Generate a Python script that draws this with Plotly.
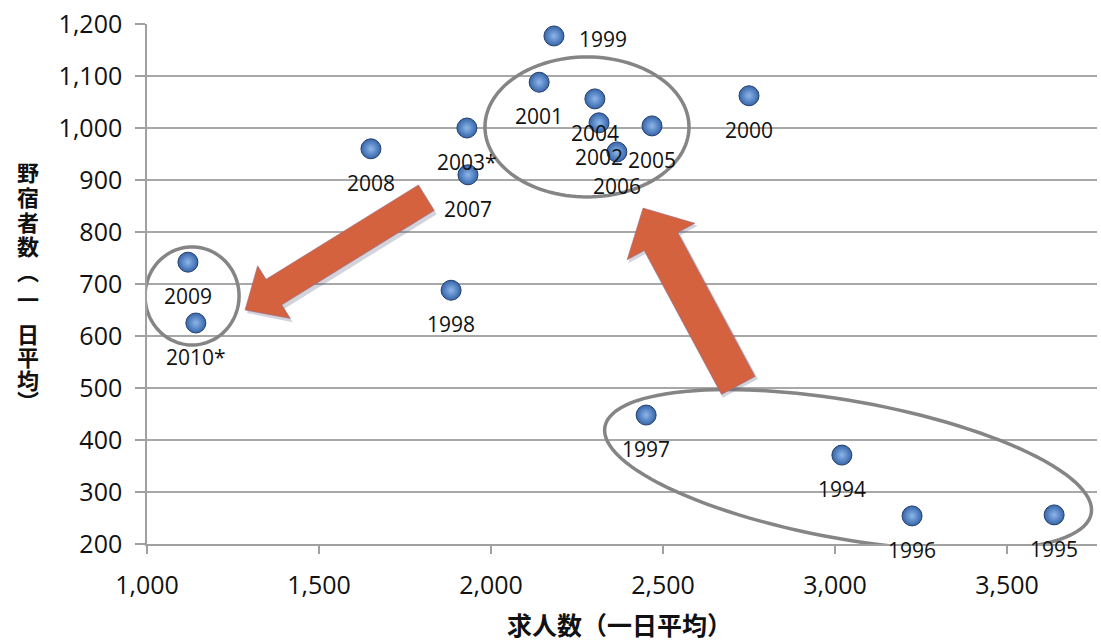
import math
import plotly.graph_objects as go

# Yearly averages: job offers per day vs. rough sleepers per day
years = ["1994", "1995", "1996", "1997", "1998", "1999", "2000", "2001", "2002",
         "2003*", "2004", "2005", "2006", "2007", "2008", "2009", "2010*"]
job_offers = [3020, 3637, 3224, 2451, 1884, 2183, 2750, 2140, 2314,
              1930, 2302, 2468, 2366, 1933, 1651, 1119, 1142]
rough_sleepers = [371, 256, 254, 448, 688, 1177, 1062, 1088, 1010,
                  1000, 1056, 1004, 954, 910, 960, 742, 625]

x_ticks = [1000, 1500, 2000, 2500, 3000, 3500]
y_ticks = [200, 300, 400, 500, 600, 700, 800, 900, 1000, 1100, 1200]

x_title = "求人数（一日平均）"
y_title_chars = ["野", "宿", "者", "数", "︵", "一", "日", "平", "均", "︶"]
# vertical placement (px from top) of each stacked title character
y_title_pos = [171, 196, 221, 245, 270, 298, 333, 356, 379, 400]

# ---- layout geometry -------------------------------------------------------
W, H = 1101, 644
ML, MR, MT, MB = 147, 4, 24, 100
PW, PH = W - ML - MR, H - MT - MB
XMIN, YMIN, YMAX = 1000, 200, 1200
KY = PH / (YMAX - YMIN)
KX = 0.344                       # px per job offer
XMAX = XMIN + PW / KX


def to_px(x, y):
    return ML + (x - XMIN) * KX, MT + (YMAX - y) * KY


def to_data(px, py):
    return XMIN + (px - ML) / KX, YMAX - (py - MT) / KY


def path_from_px(points, close=True):
    parts = []
    for i, (px, py) in enumerate(points):
        dx, dy = to_data(px, py)
        parts.append(("M" if i == 0 else "L") + f"{dx:.3f},{dy:.3f}")
    return " ".join(parts) + (" Z" if close else "")


def ellipse_path(cx, cy, a, b, angle_deg, n=120):
    """Ellipse centred on data point (cx, cy); semi-axes a, b in screen px."""
    pcx, pcy = to_px(cx, cy)
    th = math.radians(angle_deg)
    pts = []
    for i in range(n + 1):
        t = 2 * math.pi * i / n
        ex = a * math.cos(t)
        ey = b * math.sin(t)
        pts.append((pcx + ex * math.cos(th) - ey * math.sin(th),
                    pcy + ex * math.sin(th) + ey * math.cos(th)))
    return path_from_px(pts)


def block_arrow_px(tail, tip, shaft_w, head_w, head_len, off=(0, 0)):
    tx, ty = to_px(*tail)
    hx, hy = to_px(*tip)
    tx, ty, hx, hy = tx + off[0], ty + off[1], hx + off[0], hy + off[1]
    L = math.hypot(hx - tx, hy - ty)
    ux, uy = (hx - tx) / L, (hy - ty) / L
    nx, ny = -uy, ux
    bx, by = hx - ux * head_len, hy - uy * head_len
    s, h = shaft_w / 2, head_w / 2
    return [
        (tx + nx * s, ty + ny * s),
        (bx + nx * s, by + ny * s),
        (bx + nx * h, by + ny * h),
        (hx, hy),
        (bx - nx * h, by - ny * h),
        (bx - nx * s, by - ny * s),
        (tx - nx * s, ty - ny * s),
    ]


# ---- figure ----------------------------------------------------------------
fig = go.Figure()

fig.add_trace(go.Scatter(
    x=job_offers, y=rough_sleepers, mode="markers",
    marker=dict(size=20, color="#3565AA",
                gradient=dict(type="radial", color="#8DB6EA"),
                line=dict(color="#263F6A", width=1)),
    hoverinfo="skip", showlegend=False,
))

grey = "#858585"
shapes = [
    dict(type="path", path=ellipse_path(2279, 1002, 102, 70, 0),
         line=dict(color=grey, width=3.5)),
    dict(type="path", path=ellipse_path(1131, 677, 47, 49, 0),
         line=dict(color=grey, width=3.5)),
    dict(type="path", path=ellipse_path(3038, 342, 247, 69, 10.1),
         line=dict(color=grey, width=3.5)),
]

arrows = [
    dict(tail=(1812, 866), tip=(1285, 650), shaft_w=30, head_w=62, head_len=34),
    dict(tail=(2719, 505), tip=(2442, 846), shaft_w=38, head_w=77, head_len=38),
]
for a in arrows:
    shadow = block_arrow_px(a["tail"], a["tip"], a["shaft_w"] + 2, a["head_w"] + 2,
                            a["head_len"], off=(2, 3))
    shapes.append(dict(type="path", path=path_from_px(shadow),
                       fillcolor="rgba(80,80,110,0.25)", line=dict(width=0)))
    body = block_arrow_px(a["tail"], a["tip"], a["shaft_w"], a["head_w"], a["head_len"])
    shapes.append(dict(type="path", path=path_from_px(body),
                       fillcolor="#D4623E", line=dict(color="rgba(150,110,140,0.6)", width=1)))

annotations = []
for yr, xv, yv in zip(years, job_offers, rough_sleepers):
    xs, ys = (49, -3) if yr == "1999" else (0, -34)
    annotations.append(dict(
        x=xv, y=yv, text=yr, showarrow=False, xshift=xs, yshift=ys,
        font=dict(family="Open Sans", size=21, color="#111111"),
    ))

annotations.append(dict(
    xref="paper", yref="paper", x=(619 - ML) / PW, y=(MT + PH - 624) / PH,
    xanchor="center", yanchor="middle",
    text=f"<b>{x_title}</b>", showarrow=False,
    font=dict(family="Noto Sans CJK JP", size=25, color="#111111"),
))
for ch, py in zip(y_title_chars, y_title_pos):
    annotations.append(dict(
        xref="paper", yref="paper", x=(28 - ML) / PW, y=(MT + PH - py) / PH,
        xanchor="center", yanchor="middle",
        text=f"<b>{ch}</b>", showarrow=False,
        font=dict(family="Noto Sans CJK JP", size=22, color="#111111"),
    ))

fig.update_layout(
    width=W, height=H,
    margin=dict(l=ML, r=MR, t=MT, b=MB),
    paper_bgcolor="white", plot_bgcolor="white",
    shapes=shapes, annotations=annotations,
    xaxis=dict(range=[XMIN, XMAX], tickvals=x_ticks, tickformat=",d",
               showgrid=False, zeroline=False,
               showline=True, linecolor="#A0A0A0", linewidth=1.5,
               ticks="outside", ticklen=8, tickcolor="#A0A0A0", tickwidth=1.5,
               tickfont=dict(family="Open Sans", size=25, color="#111111"),
               ticklabelstandoff=10),
    yaxis=dict(range=[YMIN, YMAX], tickvals=y_ticks, tickformat=",d",
               showgrid=True, gridcolor="#A8A8A8", gridwidth=1.5, zeroline=False,
               showline=True, linecolor="#A0A0A0", linewidth=1.5,
               ticks="outside", ticklen=10, tickcolor="#A0A0A0", tickwidth=1.5,
               tickfont=dict(family="Open Sans", size=25, color="#111111"),
               ticklabelstandoff=8),
)

fig.write_html("out.html")
